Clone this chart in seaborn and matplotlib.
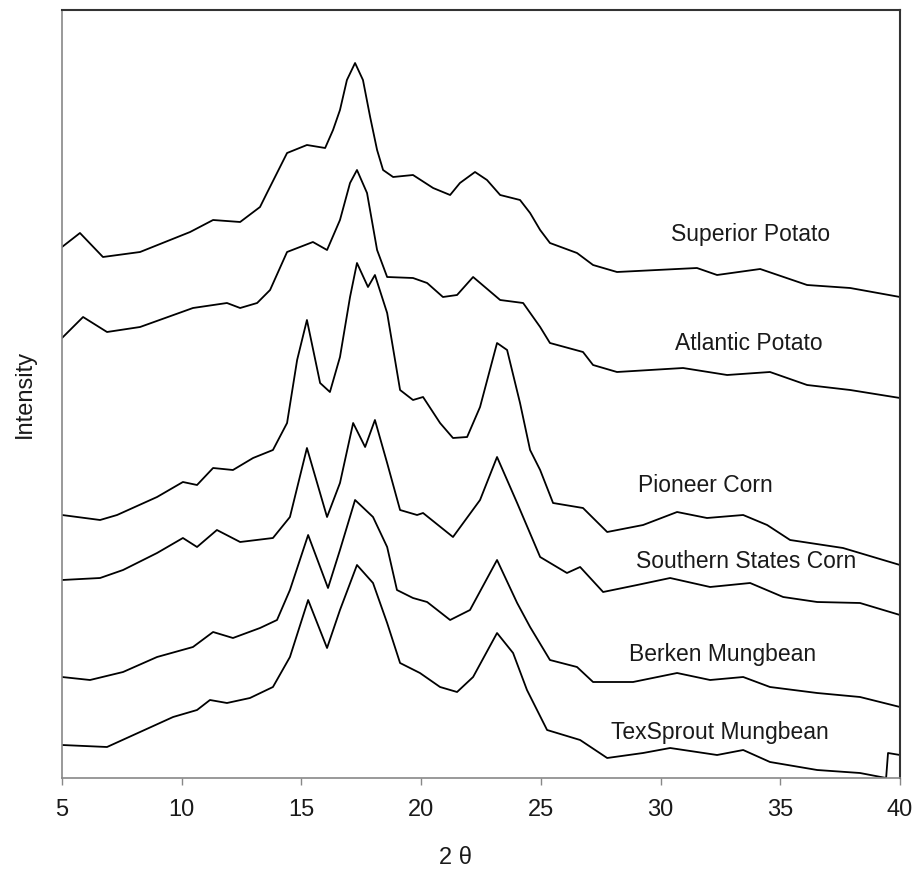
import numpy as np
import pandas as pd
import matplotlib
matplotlib.use('Agg')
import matplotlib.pyplot as plt
import seaborn as sns

sns.set_style('white')
plt.rcParams['font.family'] = ['Liberation Sans', 'DejaVu Sans']

# ---- data: 2-theta (deg) and intensity (a.u., stacked) ----
sup_x = [5.0, 5.75, 6.71, 8.26, 10.35, 11.31, 12.44, 13.27, 13.56, 13.98, 14.40, 15.23,
         15.99, 16.32, 16.61, 16.90, 17.24, 17.57, 17.87, 18.16, 18.41, 18.83, 19.66,
         20.50, 21.21, 21.62, 22.25, 22.75, 23.30, 24.13, 24.55, 24.97, 25.38, 26.51,
         27.18, 28.18, 31.52, 32.36, 34.16, 36.12, 37.92, 40.0]
sup_y = [531, 545, 521, 526, 546, 558, 556, 571, 585, 605, 625, 633,
         630, 648, 668, 698, 715, 698, 661, 628, 608, 601, 603,
         590, 583, 595, 606, 598, 583, 578, 565, 548, 535, 525,
         513, 506, 510, 503, 509, 493, 490, 481]

atl_x = [5.0, 5.88, 6.88, 8.26, 10.47, 11.89, 12.44, 13.15, 13.69, 14.40, 15.48, 16.07,
         16.61, 17.03, 17.32, 17.74, 18.16, 18.58, 19.66, 20.25, 20.91, 21.50, 22.17,
         23.30, 24.26, 24.97, 25.38, 26.76, 27.18, 28.18, 30.94, 32.78, 34.57, 36.12,
         37.92, 40.0]
atl_y = [440, 461, 446, 451, 470, 475, 470, 475, 488, 526, 536, 528,
         558, 595, 608, 585, 528, 501, 500, 495, 481, 483, 501,
         478, 475, 451, 435, 426, 413, 406, 410, 403, 406, 393,
         388, 380]

pio_x = [5.0, 6.59, 7.30, 8.97, 10.05, 10.64, 11.31, 12.14, 12.98, 13.81, 14.40, 14.82,
         15.23, 15.78, 16.19, 16.61, 17.03, 17.32, 17.78, 18.07, 18.58, 19.12, 19.66,
         20.08, 20.79, 21.33, 21.92, 22.46, 23.17, 23.59, 24.13, 24.55, 24.97, 25.51,
         26.76, 27.77, 29.27, 30.69, 31.94, 33.45, 34.45, 35.41, 37.62, 40.0]
pio_y = [263, 258, 263, 281, 296, 293, 310, 308, 320, 328, 355, 418,
         458, 395, 386, 421, 481, 515, 491, 503, 465, 388, 378,
         381, 355, 340, 341, 371, 435, 428, 375, 328, 308, 275,
         270, 246, 253, 266, 260, 263, 253, 238, 230, 213]

sou_x = [5.0, 6.59, 7.55, 8.97, 10.05, 10.64, 11.47, 12.44, 13.81, 14.52, 15.23, 16.07,
         16.61, 17.16, 17.66, 18.07, 18.58, 19.12, 19.83, 20.08, 21.33, 22.46, 23.17,
         24.01, 24.97, 26.09, 26.64, 27.60, 29.02, 30.40, 32.07, 33.74, 35.12, 36.54,
         38.33, 40.0]
sou_y = [198, 200, 208, 225, 240, 231, 248, 236, 240, 261, 330, 261,
         295, 355, 331, 358, 315, 268, 263, 265, 241, 278, 321,
         275, 221, 205, 211, 186, 193, 200, 191, 195, 181, 176,
         175, 163]

ber_x = [5.0, 6.17, 7.55, 8.97, 10.47, 11.31, 12.14, 13.27, 13.98, 14.52, 15.28, 16.11,
         16.61, 17.24, 17.99, 18.58, 18.99, 19.66, 20.25, 21.21, 22.04, 23.17, 24.01,
         24.55, 25.38, 26.51, 27.18, 28.85, 30.69, 32.07, 33.45, 34.57, 36.54, 38.33,
         40.0]
ber_y = [101, 98, 106, 121, 131, 146, 140, 150, 158, 188, 243, 190,
         228, 278, 261, 231, 188, 180, 176, 158, 168, 218, 175,
         151, 118, 111, 96, 96, 105, 98, 101, 91, 85, 81,
         71]

tex_x = [5.0, 6.88, 8.26, 9.64, 10.64, 11.18, 11.89, 12.85, 13.81, 14.52, 15.28, 16.07,
         16.61, 17.32, 17.99, 18.58, 19.12, 19.95, 20.79, 21.50, 22.17, 23.17, 23.84,
         24.42, 25.26, 26.64, 27.77, 29.27, 30.40, 32.36, 33.45, 34.57, 36.54, 38.33,
         39.42, 39.50, 40.0]
tex_y = [33, 31, 46, 61, 68, 78, 75, 80, 91, 121, 178, 130,
         168, 213, 195, 155, 115, 105, 91, 86, 101, 145, 125,
         88, 48, 38, 20, 25, 30, 23, 28, 16, 8, 5,
         0, 25, 23]

samples = ['Superior Potato', 'Atlantic Potato', 'Pioneer Corn',
           'Southern States Corn', 'Berken Mungbean', 'TexSprout Mungbean']
xs = [sup_x, atl_x, pio_x, sou_x, ber_x, tex_x]
ys = [sup_y, atl_y, pio_y, sou_y, ber_y, tex_y]

# where each sample name sits (2theta, intensity)
label_x = [33.74, 33.70, 31.86, 33.57, 32.57, 32.49]
label_y = [543, 435, 293, 216, 123, 46]

df = pd.concat([pd.DataFrame({'two_theta': x, 'intensity': y, 'sample': s})
                for x, y, s in zip(xs, ys, samples)], ignore_index=True)

fig = plt.figure(figsize=(9.17, 8.75), dpi=100)
ax = fig.add_axes([62/917, 1 - 778/875, (900 - 62)/917, (778 - 10)/875])

sns.lineplot(data=df, x='two_theta', y='intensity', units='sample',
             estimator=None, color='black', linewidth=1.3, sort=False, ax=ax)

for s, lx, ly in zip(samples, label_x, label_y):
    ax.text(lx, ly, s, fontsize=16.5, ha='center', va='center', color='#1a1a1a')

ax.set_xlim(5, 40)
ax.set_ylim(0, 768)
ax.set_xticks(np.arange(5, 41, 5))
ax.set_yticks([])
ax.set_xlabel('')
ax.set_ylabel('')
ax.tick_params(axis='x', direction='out', length=5, width=1, color='#888888',
               labelsize=17, pad=10, labelcolor='#1a1a1a', bottom=True)

for side in ['left', 'bottom']:
    ax.spines[side].set_color('#888888')
    ax.spines[side].set_linewidth(1.2)
for side in ['top', 'right']:
    ax.spines[side].set_color('#333333')
    ax.spines[side].set_linewidth(1.5)

fig.text(25/917, 1 - 394/875, 'Intensity', rotation=90, fontsize=17,
         ha='center', va='center', color='#1a1a1a')
fig.text(455/917, 1 - 858/875, '2 θ', fontsize=17, ha='center', va='center',
         color='#1a1a1a')

fig.savefig('out.png', dpi=100)
